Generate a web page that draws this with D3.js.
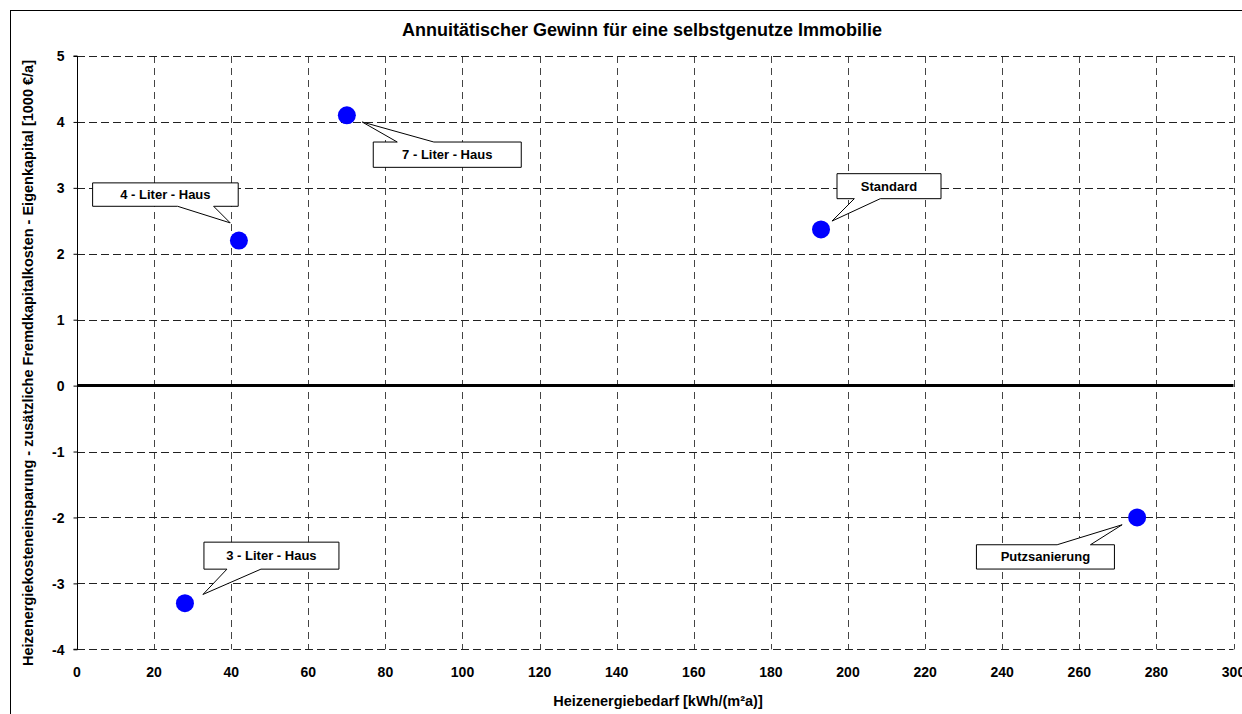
<!DOCTYPE html>
<html><head><meta charset="utf-8">
<script src="https://cdn.jsdelivr.net/npm/d3@7"></script>
<style>body{margin:0;background:#fff}svg{display:block;font-family:Arial,"Liberation Sans",sans-serif}</style>
</head><body>
<svg id="c" width="1242" height="714"></svg>
<script>
const labels = ["3 - Liter - Haus","4 - Liter - Haus","7 - Liter - Haus","Standard","Putzsanierung"];
const xValues = [28, 42, 70, 193, 275];
const yValues = [-3.3, 2.2, 4.1, 2.37, -2.0];
const xTicks = [0,20,40,60,80,100,120,140,160,180,200,220,240,260,280,300];
const yTicks = [-4,-3,-2,-1,0,1,2,3,4,5];
const title = "Annuitätischer Gewinn für eine selbstgenutze Immobilie";
const xTitle = "Heizenergiebedarf [kWh/(m²a)]";
const yTitle = "Heizenergiekosteneinsparung - zusätzliche Fremdkapitalkosten - Eigenkapital [1000 €/a]";

// callout layout: box relative to point (bx,by,w,h), pointer base b0,b1 rel to box left, side, tip rel to point
const callouts = [
  {bx:19, by:-61, w:135, h:27, b0:23, b1:57, side:"bottom", tip:[18,-8.7]},
  {bx:-146.3, by:-57.7, w:145.6, h:23.4, b0:85, b1:121, side:"bottom", tip:[-8.7,-17.7]},
  {bx:26.4, by:26.7, w:148, h:25.3, b0:24, b1:60.6, side:"top", tip:[15.4,6.7]},
  {bx:16, by:-55.7, w:104, h:25, b0:17.3, b1:43.3, side:"bottom", tip:[11,-8.3]},
  {bx:-160.7, by:27.3, w:138, h:24.3, b0:80.7, b1:114, side:"top", tip:[-15,7.3]}
];

const svg = d3.select("#c");
const m = {l:77, r:1233.5, t:56, b:649.3};
const x = d3.scaleLinear().domain([0,300]).range([m.l, m.r]);
const y = d3.scaleLinear().domain([-4,5]).range([m.b, m.t]);

// outer frame
svg.append("rect").attr("x",10.5).attr("y",10.5).attr("width",1260).attr("height",730)
  .attr("fill","none").attr("stroke","#000").attr("stroke-width",1);

// title
svg.append("text").attr("x",642).attr("y",36).attr("text-anchor","middle")
  .attr("font-weight","bold").attr("font-size",18).text(title);

const g = svg.append("g");
// vertical grid
g.selectAll(".vg").data(xTicks.filter(d=>d>0)).join("line")
  .attr("x1",d=>Math.round(x(d))+0.5).attr("x2",d=>Math.round(x(d))+0.5)
  .attr("y1",m.t).attr("y2",m.b)
  .attr("stroke","#444").attr("stroke-dasharray","7,5");
// horizontal grid
g.selectAll(".hg").data(yTicks.filter(d=>d!==0)).join("line")
  .attr("x1",m.l).attr("x2",m.r)
  .attr("y1",d=>Math.round(y(d))+0.5).attr("y2",d=>Math.round(y(d))+0.5)
  .attr("stroke","#222").attr("stroke-dasharray","8,4");

// left axis
const ya = d3.axisLeft(y).tickValues(yTicks).tickSize(4).tickFormat(d=>String(d));
const yg = svg.append("g").attr("transform",`translate(${m.l+0.5},0)`).call(ya);
yg.select(".domain").attr("stroke","#000").attr("d",`M-4,${m.t}H0V${m.b}H-4`);
yg.selectAll("text").attr("font-size",14).attr("font-weight","bold").attr("font-family","Arial, 'Liberation Sans', sans-serif").attr("x",-13).attr("dy","0.35em").attr("fill","#000");

// zero axis
svg.append("line").attr("x1",m.l).attr("x2",m.r).attr("y1",y(0)).attr("y2",y(0))
  .attr("stroke","#000").attr("stroke-width",3);

// x tick labels at bottom
svg.append("g").selectAll("text").data(xTicks).join("text")
  .attr("x",d=>x(d)).attr("y",677).attr("text-anchor","middle")
  .attr("font-size",14).attr("font-weight","bold").text(d=>d);

// axis titles
svg.append("text").attr("x",658).attr("y",706).attr("text-anchor","middle")
  .attr("font-size",14.5).attr("font-weight","bold").text(xTitle);
svg.append("text").attr("transform","translate(33,363) rotate(-90)").attr("text-anchor","middle")
  .attr("font-size",14.5).attr("font-weight","bold").text(yTitle);

// points
const pts = labels.map((l,i)=>({l, x:xValues[i], y:yValues[i], c:callouts[i]}));
svg.append("g").selectAll("circle").data(pts).join("circle")
  .attr("cx",d=>x(d.x)).attr("cy",d=>y(d.y)).attr("r",9).attr("fill","#0000ff");

// callouts
const cg = svg.append("g");
pts.forEach(d=>{
  const px=x(d.x), py=y(d.y), c=d.c;
  const L=px+c.bx, T=py+c.by, R=L+c.w, B=T+c.h;
  const tx=px+c.tip[0], ty=py+c.tip[1];
  let path;
  if(c.side==="bottom"){
    path=`M${L},${T}H${R}V${B}H${L+c.b1}L${tx},${ty}L${L+c.b0},${B}H${L}Z`;
  } else {
    path=`M${L},${T}H${L+c.b0}L${tx},${ty}L${L+c.b1},${T}H${R}V${B}H${L}Z`;
  }
  cg.append("path").attr("d",path).attr("fill","#fff").attr("stroke","#000").attr("stroke-width",1);
  cg.append("text").attr("x",(L+R)/2).attr("y",(T+B)/2).attr("dy","0.35em")
    .attr("text-anchor","middle").attr("font-size",13).attr("font-weight","bold").text(d.l);
});
</script>
</body></html>
